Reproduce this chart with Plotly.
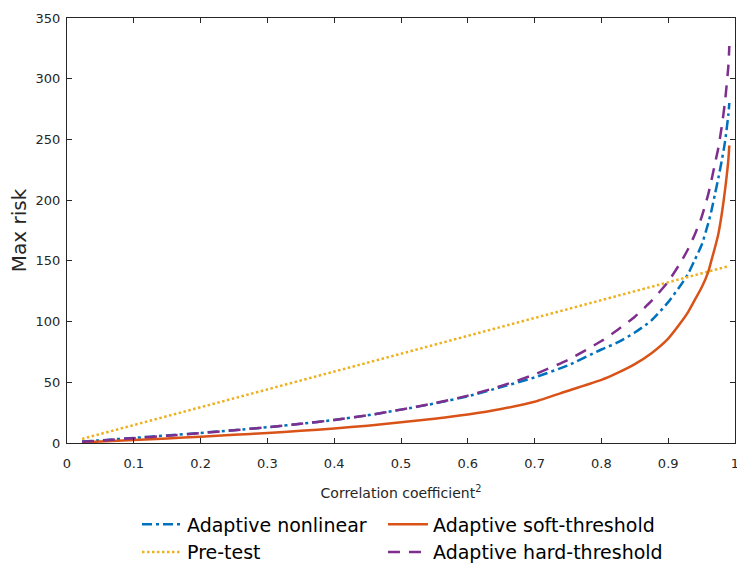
import plotly.graph_objects as go

# Correlation coefficient^2 (x positions)
corr2 = [0.0225, 0.05, 0.1, 0.15, 0.2, 0.25, 0.3, 0.35, 0.4, 0.45, 0.5, 0.55, 0.6, 0.65,
         0.7, 0.75, 0.8, 0.825, 0.85, 0.875, 0.9, 0.92, 0.93, 0.94, 0.95, 0.96, 0.965,
         0.97, 0.975, 0.98, 0.985, 0.99, 0.9915]

adaptive_nonlinear = [1.2, 2.2, 4.2, 6.2, 8.3, 10.6, 13.0, 15.8, 19.0, 22.8, 27.5, 32.5, 38.5, 46.0,
                      54.0, 64.0, 77.0, 83.0, 91.0, 101.0, 116.0, 131.0, 139.5, 151.0, 163.0, 181.0, 192.0,
                      205.0, 218.0, 232.0, 248.0, 270.0, 280.0]

adaptive_soft = [0.5, 1.2, 2.5, 3.8, 5.2, 6.7, 8.3, 10.0, 12.0, 14.3, 17.0, 20.0, 23.5, 28.0,
                 34.0, 43.0, 52.0, 58.0, 65.0, 74.0, 86.0, 100.0, 108.0, 118.0, 128.0, 141.0, 151.0,
                 161.0, 172.0, 188.0, 208.0, 233.0, 245.0]

pre_test = [3.4, 7.4, 14.7, 22.1, 29.4, 36.8, 44.1, 51.5, 58.8, 66.2, 73.5, 80.9, 88.2, 95.6,
            102.9, 110.3, 117.6, 121.3, 125.0, 128.6, 132.3, 135.2, 136.7, 138.2, 139.7, 141.1, 141.9,
            142.6, 143.3, 144.1, 144.8, 145.5, 145.8]

adaptive_hard = [1.0, 2.0, 4.0, 6.0, 8.2, 10.5, 13.0, 15.8, 19.0, 22.8, 27.5, 32.8, 39.0, 47.0,
                 56.5, 68.5, 84.0, 93.5, 104.0, 117.0, 133.0, 150.0, 160.0, 172.0, 186.0, 205.0, 217.0,
                 230.0, 243.0, 260.0, 281.0, 310.0, 327.0]

x_ticks = [0, 0.1, 0.2, 0.3, 0.4, 0.5, 0.6, 0.7, 0.8, 0.9, 1]
y_ticks = [0, 50, 100, 150, 200, 250, 300, 350]

FONT = "DejaVu Sans"
AX = "#262626"

fig = go.Figure()
fig.add_trace(go.Scatter(x=corr2, y=adaptive_nonlinear, mode="lines", name="Adaptive nonlinear",
                         legend="legend",
                         line=dict(color="#0072BD", width=2.5, dash="10px,4px,3px,4px",
                                   shape="spline", smoothing=0.6)))
fig.add_trace(go.Scatter(x=corr2, y=pre_test, mode="lines", name="Pre-test",
                         legend="legend",
                         line=dict(color="#EDB120", width=2.5, dash="2.5px,2.5px")))
fig.add_trace(go.Scatter(x=corr2, y=adaptive_soft, mode="lines", name="Adaptive soft-threshold",
                         legend="legend2",
                         line=dict(color="#D95319", width=2.5, shape="spline", smoothing=0.6)))
fig.add_trace(go.Scatter(x=corr2, y=adaptive_hard, mode="lines", name="Adaptive hard-threshold",
                         legend="legend2",
                         line=dict(color="#7E2F8E", width=2.5, dash="12px,9px",
                                   shape="spline", smoothing=0.6)))

legend_common = dict(orientation="v", yanchor="top", xanchor="left",
                     font=dict(family=FONT, size=19, color="#000000"),
                     bgcolor="rgba(0,0,0,0)", tracegroupgap=0, itemwidth=40,
                     traceorder="normal")

fig.update_layout(
    width=737, height=567,
    margin=dict(l=67, r=2, t=18, b=124, autoexpand=False),
    paper_bgcolor="white", plot_bgcolor="white",
    font=dict(family=FONT, size=13, color=AX),
    showlegend=True,
    legend=dict(x=0.1048, y=-0.147, **legend_common),
    legend2=dict(x=0.473, y=-0.147, **legend_common),
)
fig.update_xaxes(range=[0, 1], tickvals=x_ticks, ticktext=[str(v) for v in x_ticks],
                 automargin=False, ticklabeloverflow="allow",
                 showgrid=False, zeroline=False, showline=True, linecolor=AX, linewidth=1,
                 mirror="ticks", ticks="inside", ticklen=5, tickcolor=AX,
                 ticklabelstandoff=8,
                 tickfont=dict(size=13, color=AX),
                 title=dict(text="Correlation coefficient<sup>2</sup>", font=dict(size=14, color=AX),
                            standoff=18))
fig.update_yaxes(range=[0, 350], tickvals=y_ticks, automargin=False,
                 showgrid=False, zeroline=False, showline=True, linecolor=AX, linewidth=1,
                 mirror="ticks", ticks="inside", ticklen=5, tickcolor=AX,
                 ticklabelstandoff=3,
                 tickfont=dict(size=13, color=AX),
                 title=dict(text="Max risk", font=dict(size=20, color=AX), standoff=3))

# Remove the default 8px page margin so the figure fills the window exactly.
fig.write_html("out.html", config={"displayModeBar": False},
               post_script="document.body.style.margin='0';document.body.style.overflow='hidden';")
